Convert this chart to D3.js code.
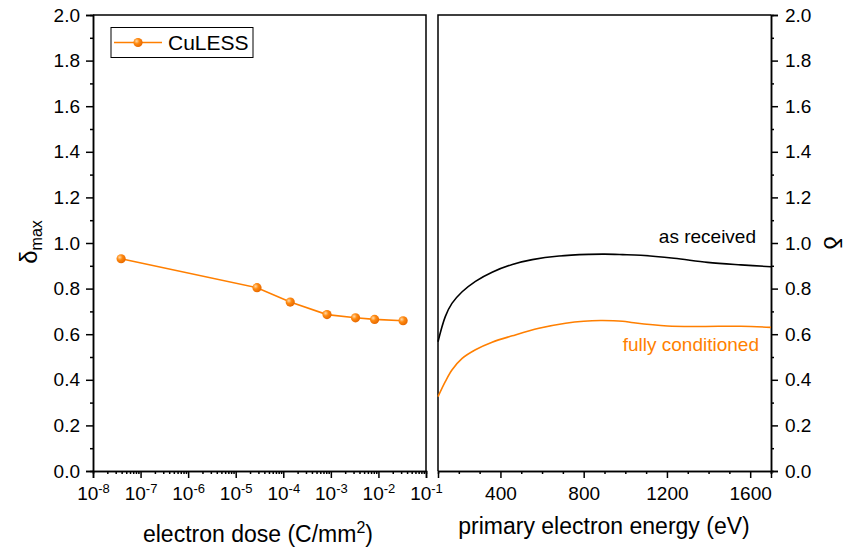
<!DOCTYPE html>
<html>
<head>
<meta charset="utf-8">
<script src="https://cdn.jsdelivr.net/npm/d3@7"></script>
<style>
  body { margin: 0; background: #fff; }
  text { font-family: Arial, "Liberation Sans", sans-serif; fill: #000; }
</style>
</head>
<body>
<svg id="chart" width="858" height="549"></svg>
<script>
// left panel: delta_max vs dose
const doseValues = [3.9e-8, 2.8e-5, 1.4e-4, 8.3e-4, 3.3e-3, 8.3e-3, 3.3e-2];
const deltaMaxValues = [0.931, 0.804, 0.741, 0.686, 0.672, 0.665, 0.659];
const doseTickExponents = [-8, -7, -6, -5, -4, -3, -2, -1];

// right panel: delta vs primary energy
const asReceivedEnergy = [100, 135, 167, 216, 280, 360, 457, 553, 682, 826, 900, 987, 1074, 1234, 1395, 1555, 1700];
const asReceivedValues = [0.567, 0.677, 0.735, 0.786, 0.832, 0.872, 0.906, 0.927, 0.943, 0.950, 0.951, 0.949, 0.946, 0.933, 0.915, 0.904, 0.896];
const conditionedEnergy = [100, 135, 167, 216, 280, 360, 457, 585, 713, 800, 881, 987, 1041, 1202, 1363, 1555, 1700];
const conditionedValues = [0.326, 0.392, 0.443, 0.494, 0.532, 0.565, 0.593, 0.626, 0.648, 0.657, 0.660, 0.657, 0.650, 0.636, 0.634, 0.635, 0.630];
const energyTicks = [400, 800, 1200, 1600];
const deltaTicks = [0, 0.2, 0.4, 0.6, 0.8, 1.0, 1.2, 1.4, 1.6, 1.8, 2.0];

const orange = '#FF7F00';

const svg = d3.select('#chart');
const plotTop = 15, plotBottom = 471;
const left1 = 93, right1 = 426;
const left2 = 438, right2 = 771;

const yScale = d3.scaleLinear().domain([0, 2]).range([plotBottom, plotTop]);
const xDose = d3.scaleLog().domain([1e-8, 1e-1]).range([left1, right1]);
const xEnergy = d3.scaleLinear().domain([100, 1700]).range([left2, right2]);

const minorDelta = d3.range(0.1, 2, 0.2);
const minorDose = [];
doseTickExponents.slice(0, -1).forEach(e => {
  for (let k = 2; k <= 9; k++) minorDose.push(k * Math.pow(10, e));
});
const minorEnergy = d3.range(200, 1701, 100).filter(v => v % 400 !== 0);

// gradient for markers
const defs = svg.append('defs');
const grad = defs.append('radialGradient').attr('id', 'ball')
    .attr('cx', '35%').attr('cy', '35%').attr('r', '65%');
grad.append('stop').attr('offset', '0%').attr('stop-color', '#FFD9A8');
grad.append('stop').attr('offset', '45%').attr('stop-color', '#FF8A10');
grad.append('stop').attr('offset', '100%').attr('stop-color', '#E86A00');

function styleAxis(g) {
  g.select('.domain').attr('stroke', '#000').attr('stroke-width', 1.5);
  g.selectAll('.tick line').attr('stroke', '#000').attr('stroke-width', 1.5);
  g.selectAll('text').style('font-size', '19px').attr('fill', '#000');
}

// ---------- left panel ----------
svg.append('g')
    .attr('transform', `translate(${left1},0)`)
    .call(d3.axisLeft(yScale).tickValues(minorDelta).tickSize(3).tickFormat(''))
    .call(styleAxis);
svg.append('g')
    .attr('transform', `translate(${left1},0)`)
    .call(d3.axisLeft(yScale).tickValues(deltaTicks).tickSize(7).tickPadding(6).tickFormat(d3.format('.1f')))
    .call(styleAxis);

svg.append('g')
    .attr('transform', `translate(0,${plotBottom})`)
    .call(d3.axisBottom(xDose).tickValues(minorDose).tickSize(3).tickFormat(''))
    .call(styleAxis);
const doseAxis = svg.append('g')
    .attr('transform', `translate(0,${plotBottom})`)
    .call(d3.axisBottom(xDose).tickValues(doseTickExponents.map(e => Math.pow(10, e))).tickSize(7).tickPadding(9).tickFormat(''))
    .call(styleAxis);
doseAxis.selectAll('.tick text').each(function(d) {
  const t = d3.select(this).text(null);
  t.append('tspan').text('10');
  t.append('tspan').attr('dy', '-0.55em').style('font-size', '13px').text(Math.round(Math.log10(d)));
});

// frame top/right
svg.append('path')
    .attr('d', `M${left1},${plotTop}H${right1}V${plotBottom}`)
    .attr('fill', 'none').attr('stroke', '#000').attr('stroke-width', 1.5);

const doseData = doseValues.map((d, i) => ({ x: d, y: deltaMaxValues[i] }));
svg.append('path')
    .datum(doseData)
    .attr('fill', 'none')
    .attr('stroke', orange)
    .attr('stroke-width', 1.6)
    .attr('d', d3.line().x(d => xDose(d.x)).y(d => yScale(d.y)));
svg.selectAll('.pt')
    .data(doseData)
    .join('circle')
    .attr('class', 'pt')
    .attr('cx', d => xDose(d.x))
    .attr('cy', d => yScale(d.y))
    .attr('r', 4.6)
    .attr('fill', 'url(#ball)');

// legend
const lg = svg.append('g');
lg.append('rect').attr('x', 111).attr('y', 27.5).attr('width', 142).attr('height', 30)
    .attr('fill', '#fff').attr('stroke', '#000').attr('stroke-width', 1);
lg.append('line').attr('x1', 114).attr('x2', 162).attr('y1', 42.5).attr('y2', 42.5)
    .attr('stroke', orange).attr('stroke-width', 1.6);
lg.append('circle').attr('cx', 138).attr('cy', 42.5).attr('r', 4.6).attr('fill', 'url(#ball)');
lg.append('text').attr('x', 168).attr('y', 50).style('font-size', '21px').text('CuLESS');

// axis titles left
svg.append('text')
    .attr('text-anchor', 'middle')
    .attr('x', 258).attr('y', 542)
    .style('font-size', '23px')
    .call(t => {
      t.append('tspan').text('electron dose (C/mm');
      t.append('tspan').attr('dy', '-0.55em').style('font-size', '16px').text('2');
      t.append('tspan').attr('dy', '0.38em').text(')');
    });
svg.append('text')
    .attr('text-anchor', 'middle')
    .attr('transform', 'translate(37,242) rotate(-90)')
    .style('font-size', '24px')
    .call(t => {
      t.append('tspan').text('δ');
      t.append('tspan').attr('dy', '0.3em').style('font-size', '16px').text('max');
    });

// ---------- right panel ----------
svg.append('g')
    .attr('transform', `translate(${right2},0)`)
    .call(d3.axisRight(yScale).tickValues(minorDelta).tickSize(3).tickFormat(''))
    .call(styleAxis);
svg.append('g')
    .attr('transform', `translate(${right2},0)`)
    .call(d3.axisRight(yScale).tickValues(deltaTicks).tickSize(7).tickPadding(7).tickFormat(d3.format('.1f')))
    .call(styleAxis);

svg.append('g')
    .attr('transform', `translate(0,${plotBottom})`)
    .call(d3.axisBottom(xEnergy).tickValues(minorEnergy).tickSize(3).tickFormat(''))
    .call(styleAxis);
svg.append('g')
    .attr('transform', `translate(0,${plotBottom})`)
    .call(d3.axisBottom(xEnergy).tickValues(energyTicks).tickSize(7).tickPadding(9).tickFormat(d3.format('d')))
    .call(styleAxis);

svg.append('path')
    .attr('d', `M${right2},${plotTop}H${left2}V${plotBottom}`)
    .attr('fill', 'none').attr('stroke', '#000').attr('stroke-width', 1.5);

const curve = d3.line().curve(d3.curveCatmullRom.alpha(0.5));
svg.append('path')
    .attr('fill', 'none').attr('stroke', '#000').attr('stroke-width', 1.6)
    .attr('d', curve(asReceivedEnergy.map((e, i) => [xEnergy(e), yScale(asReceivedValues[i])])));
svg.append('path')
    .attr('fill', 'none').attr('stroke', orange).attr('stroke-width', 1.6)
    .attr('d', curve(conditionedEnergy.map((e, i) => [xEnergy(e), yScale(conditionedValues[i])])));

svg.append('text').attr('text-anchor', 'end').attr('x', 756).attr('y', 243)
    .style('font-size', '19px').text('as received');
svg.append('text').attr('text-anchor', 'end').attr('x', 759).attr('y', 351)
    .style('font-size', '19px').style('fill', orange).text('fully conditioned');

svg.append('text')
    .attr('text-anchor', 'middle')
    .attr('x', 604).attr('y', 534)
    .style('font-size', '23px')
    .text('primary electron energy (eV)');
svg.append('text')
    .attr('text-anchor', 'middle')
    .attr('transform', 'translate(824,243) rotate(90)')
    .style('font-size', '24px')
    .text('δ');
</script>
</body>
</html>
